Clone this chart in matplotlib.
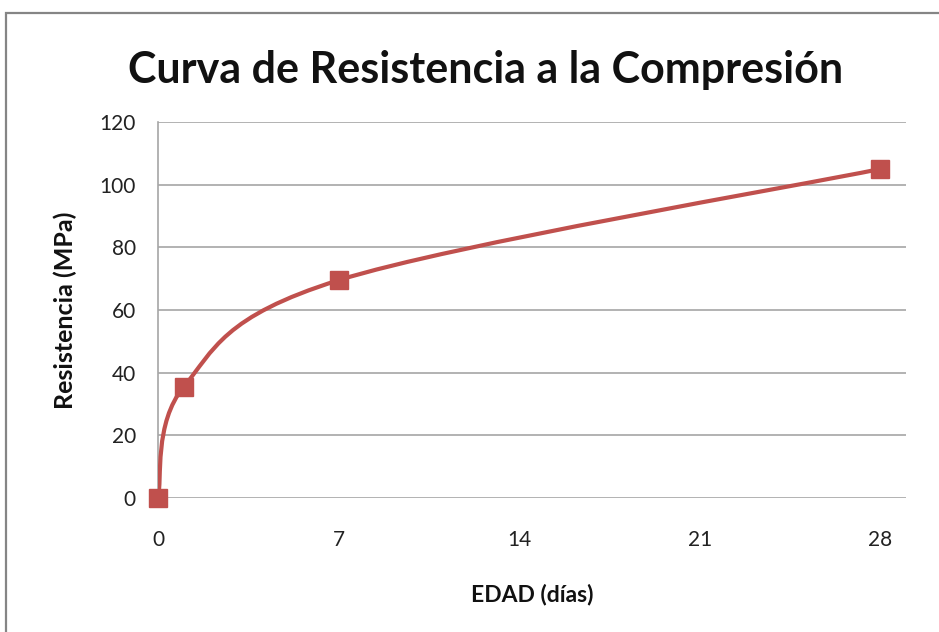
import matplotlib
matplotlib.use("Agg")
import matplotlib.pyplot as plt
from matplotlib.path import Path
from matplotlib.patches import PathPatch, Rectangle

# Data
edad = [0, 1, 7, 28]
resistencia = [0, 35.5, 69.5, 105]
x_ticks = [0, 7, 14, 21, 28]
y_ticks = [0, 20, 40, 60, 80, 100, 120]
title = "Curva de Resistencia a la Compresión"
xlabel = "EDAD (días)"
ylabel = "Resistencia (MPa)"

plt.rcParams['font.family'] = ['Lato', 'DejaVu Sans']
color = '#C0504D'

W, H = 939, 632
fig = plt.figure(figsize=(W / 100, H / 100), dpi=100)
ax = fig.add_axes([158 / W, 1 - 498 / H, (906 - 158) / W, (498 - 122) / H])

# Smoothed line (Excel-like Catmull-Rom Bezier smoothing between points)
pts = list(zip(edad, resistencia))
verts = [pts[0]]
codes = [Path.MOVETO]
n = len(pts)
for i in range(n - 1):
    p0 = pts[i - 1] if i > 0 else pts[i]
    p1 = pts[i]
    p2 = pts[i + 1]
    p3 = pts[i + 2] if i + 2 < n else pts[i + 1]
    c1 = (p1[0] + (p2[0] - p0[0]) / 6, p1[1] + (p2[1] - p0[1]) / 6)
    c2 = (p2[0] - (p3[0] - p1[0]) / 6, p2[1] - (p3[1] - p1[1]) / 6)
    verts += [c1, c2, p2]
    codes += [Path.CURVE4] * 3
ax.add_patch(PathPatch(Path(verts, codes), fill=False, edgecolor=color,
                       lw=3.0, capstyle='round', joinstyle='round', zorder=3))
ax.plot(edad, resistencia, linestyle='none', marker='s', markersize=13,
        markerfacecolor=color, markeredgecolor=color, zorder=4, clip_on=False)

ax.set_xlim(0, 29)
ax.set_ylim(0, 120)
ax.set_xticks(x_ticks)
ax.set_yticks(y_ticks)
ax.tick_params(axis='both', length=0, labelsize=15, colors='#222222')
ax.tick_params(axis='x', pad=23)
ax.tick_params(axis='y', pad=16)
ax.grid(axis='y', color='#a6a6a6', lw=1.2)
ax.set_axisbelow(True)
for s in ['top', 'right', 'bottom']:
    ax.spines[s].set_visible(False)
ax.spines['left'].set_color('#a6a6a6')
ax.spines['left'].set_linewidth(1.2)

ax.set_xlabel(xlabel, fontsize=16.5, fontweight='bold', labelpad=24, color='#111111')
ax.set_ylabel(ylabel, fontsize=18, fontweight='bold', labelpad=16, color='#111111')

fig.text(486 / W, 1 - 70 / H, title, ha='center', va='center', fontsize=31,
         fontweight='bold', color='#111111')

# Chart border
fig.add_artist(Rectangle((6 / W, -0.1), 1.2, 1 - 13 / H + 0.1, transform=fig.transFigure,
                         fill=False, edgecolor='#858585', lw=1.6))

fig.savefig("out.png", dpi=100)
